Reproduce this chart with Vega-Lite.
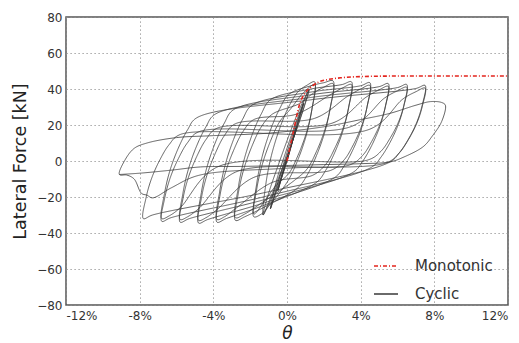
{
 "$schema": "https://vega.github.io/schema/vega-lite/v6.json",
 "width": 442, "height": 288,
 "autosize": {"type": "none"},
 "padding": {"left": 66, "top": 17, "right": 11, "bottom": 38},
 "background": "white",
 "config": {
  "view": {"stroke": "#555", "strokeWidth": 1.5},
  "font": "DejaVu Sans",
  "axis": {"domain": false, "grid": true, "gridColor": "#8f8f8f", "gridDash": [1.2, 2.8], "gridWidth": 1, "ticks": false,
           "labelFont": "DejaVu Sans", "labelFontSize": 12, "labelColor": "#333", "titleFont": "DejaVu Sans", "titleFontWeight": "normal", "titleColor": "#222"}
 },
 "datasets": {
  "cyc": [
   {"i":1,"x":0,"y":0},{"i":2,"x":0.25,"y":9},{"i":3,"x":0.5,"y":18.5},{"i":4,"x":0.25,"y":9.5},{"i":5,"x":0,"y":0.5},{"i":6,"x":-0.25,"y":-8},{"i":7,"x":-0.5,"y":-16.5},{"i":8,"x":-0.25,"y":-7.5},{"i":9,"x":0,"y":1},{"i":10,"x":0.25,"y":9.5},{"i":11,"x":0.5,"y":18.5},{"i":12,"x":0.25,"y":9},{"i":13,"x":0,"y":0},{"i":14,"x":-0.25,"y":-8},{"i":15,"x":-0.5,"y":-16.5},
   {"i":16,"x":-0.2,"y":-5},{"i":17,"x":0.2,"y":8},{"i":18,"x":0.55,"y":20},{"i":19,"x":0.9,"y":32},{"i":20,"x":0.6,"y":22},{"i":21,"x":0.2,"y":8.5},{"i":22,"x":-0.2,"y":-5.5},{"i":23,"x":-0.6,"y":-17},{"i":24,"x":-0.9,"y":-26.5},{"i":25,"x":-0.6,"y":-16},{"i":26,"x":-0.2,"y":-2},{"i":27,"x":0.2,"y":11},{"i":28,"x":0.55,"y":22},{"i":29,"x":0.9,"y":32},{"i":30,"x":0.6,"y":21.5},{"i":31,"x":0.2,"y":8},{"i":32,"x":-0.2,"y":-6},{"i":33,"x":-0.6,"y":-17.5},{"i":34,"x":-0.9,"y":-26.5},
   {"i":35,"x":-0.6,"y":-12},{"i":36,"x":-0.1,"y":4},{"i":37,"x":0.4,"y":19},{"i":38,"x":0.8,"y":30},{"i":39,"x":1.2,"y":40},{"i":40,"x":0.95,"y":31},{"i":41,"x":0.5,"y":17},{"i":42,"x":0,"y":2},{"i":43,"x":-0.5,"y":-12},{"i":44,"x":-0.9,"y":-22},{"i":45,"x":-1.3,"y":-30},{"i":46,"x":-1.0,"y":-18},{"i":47,"x":-0.5,"y":-3},{"i":48,"x":0.1,"y":14},{"i":49,"x":0.6,"y":27},{"i":50,"x":1.2,"y":39.5},{"i":51,"x":0.9,"y":29},{"i":52,"x":0.4,"y":14},{"i":53,"x":-0.1,"y":0},{"i":54,"x":-0.6,"y":-13},{"i":55,"x":-1.0,"y":-23},{"i":56,"x":-1.3,"y":-30},
   {"i":57,"x":-1.15,"y":-12.9},{"i":58,"x":-0.85,"y":2.9},{"i":59,"x":-0.4,"y":18},{"i":60,"x":0.1,"y":30.3},{"i":61,"x":0.6,"y":38.5},{"i":62,"x":1.1,"y":42.2},{"i":63,"x":1.5,"y":44},{"i":64,"x":1.35,"y":28.6},{"i":65,"x":1.05,"y":14.4},{"i":66,"x":0.6,"y":0.9},{"i":67,"x":0.1,"y":-10.2},{"i":68,"x":-0.4,"y":-17.6},{"i":69,"x":-0.9,"y":-24},{"i":70,"x":-1.4,"y":-29.5},{"i":71,"x":-1.8,"y":-31},
   {"i":72,"x":-1.65,"y":-16},{"i":73,"x":-1.35,"y":-2.2},{"i":74,"x":-0.9,"y":11},{"i":75,"x":-0.4,"y":21.8},{"i":76,"x":0.2,"y":29},{"i":77,"x":0.9,"y":38},{"i":78,"x":1.5,"y":42.5},{"i":79,"x":1.35,"y":28.5},{"i":80,"x":1.05,"y":15.6},{"i":81,"x":0.6,"y":3.2},{"i":82,"x":0.1,"y":-6.9},{"i":83,"x":-0.6,"y":-13.6},{"i":84,"x":-1.2,"y":-22},{"i":85,"x":-1.8,"y":-29.5},
   {"i":86,"x":-1.65,"y":-12.9},{"i":87,"x":-1.35,"y":2.4},{"i":88,"x":-0.9,"y":17.1},{"i":89,"x":-0.4,"y":29},{"i":90,"x":0.1,"y":37},{"i":91,"x":1.3,"y":41.8},{"i":92,"x":2.0,"y":43.5},{"i":93,"x":2.5,"y":44.5},{"i":94,"x":2.35,"y":29.7},{"i":95,"x":2.05,"y":16},{"i":96,"x":1.6,"y":3},{"i":97,"x":1.1,"y":-7.7},{"i":98,"x":0.6,"y":-14.8},{"i":99,"x":-1.1,"y":-24.9},{"i":100,"x":-2.3,"y":-31},{"i":101,"x":-2.8,"y":-33},
   {"i":102,"x":-2.65,"y":-18.3},{"i":103,"x":-2.35,"y":-4.7},{"i":104,"x":-1.9,"y":8.3},{"i":105,"x":-1.4,"y":18.9},{"i":106,"x":-0.8,"y":26},{"i":107,"x":0.7,"y":32},{"i":108,"x":1.4,"y":37.5},{"i":109,"x":2.0,"y":41},{"i":110,"x":2.5,"y":43},{"i":111,"x":2.35,"y":29.5},{"i":112,"x":2.05,"y":17.2},{"i":113,"x":1.6,"y":5.3},{"i":114,"x":1.1,"y":-4.3},{"i":115,"x":0.4,"y":-10.8},{"i":116,"x":-1.2,"y":-22},{"i":117,"x":-2.3,"y":-29.5},{"i":118,"x":-2.8,"y":-31.5},
   {"i":119,"x":-2.65,"y":-15.1},{"i":120,"x":-2.35,"y":-0.1},{"i":121,"x":-1.9,"y":14.4},{"i":122,"x":-1.4,"y":26.1},{"i":123,"x":-0.9,"y":34},{"i":124,"x":1.3,"y":40},{"i":125,"x":3.0,"y":42.5},{"i":126,"x":3.5,"y":44},{"i":127,"x":3.35,"y":30},{"i":128,"x":3.05,"y":17.2},{"i":129,"x":2.6,"y":4.9},{"i":130,"x":2.1,"y":-5.2},{"i":131,"x":1.6,"y":-11.9},{"i":132,"x":-1.1,"y":-24},{"i":133,"x":-3.3,"y":-32},{"i":134,"x":-3.8,"y":-34},
   {"i":135,"x":-3.65,"y":-19.8},{"i":136,"x":-3.35,"y":-6.6},{"i":137,"x":-2.9,"y":5.9},{"i":138,"x":-2.4,"y":16.2},{"i":139,"x":-1.8,"y":23},{"i":140,"x":0.5,"y":26},{"i":141,"x":2.3,"y":36.5},{"i":142,"x":3.0,"y":40.5},{"i":143,"x":3.5,"y":42.5},{"i":144,"x":3.35,"y":29.9},{"i":145,"x":3.05,"y":18.3},{"i":146,"x":2.6,"y":7.2},{"i":147,"x":2.1,"y":-1.9},{"i":148,"x":1.4,"y":-7.9},{"i":149,"x":-0.8,"y":-11.9},{"i":150,"x":-2.8,"y":-26.5},{"i":151,"x":-3.4,"y":-31},{"i":152,"x":-3.8,"y":-32.5},
   {"i":153,"x":-3.65,"y":-16.6},{"i":154,"x":-3.35,"y":-2},{"i":155,"x":-2.9,"y":12},{"i":156,"x":-2.4,"y":23.4},{"i":157,"x":-1.9,"y":31},{"i":158,"x":1.3,"y":38.3},{"i":159,"x":4.0,"y":41.8},{"i":160,"x":4.5,"y":43.5},{"i":161,"x":4.35,"y":30.3},{"i":162,"x":4.05,"y":18.3},{"i":163,"x":3.6,"y":6.7},{"i":164,"x":3.1,"y":-2.8},{"i":165,"x":2.6,"y":-9.1},{"i":166,"x":-1.1,"y":-22.8},{"i":167,"x":-4.3,"y":-32.5},{"i":168,"x":-4.8,"y":-34.5},
   {"i":169,"x":-4.65,"y":-20.7},{"i":170,"x":-4.35,"y":-8},{"i":171,"x":-3.9,"y":4.1},{"i":172,"x":-3.4,"y":14.1},{"i":173,"x":-2.8,"y":20.7},{"i":174,"x":1.5,"y":23.7},{"i":175,"x":3.3,"y":36},{"i":176,"x":4.0,"y":40},{"i":177,"x":4.5,"y":42},{"i":178,"x":4.35,"y":30.2},{"i":179,"x":4.05,"y":19.4},{"i":180,"x":3.6,"y":9},{"i":181,"x":3.1,"y":0.6},{"i":182,"x":2.4,"y":-5.1},{"i":183,"x":-1.8,"y":-9.1},{"i":184,"x":-3.8,"y":-27},{"i":185,"x":-4.4,"y":-31.5},{"i":186,"x":-4.8,"y":-33},
   {"i":187,"x":-4.65,"y":-17.6},{"i":188,"x":-4.35,"y":-3.5},{"i":189,"x":-3.9,"y":10},{"i":190,"x":-3.4,"y":21.1},{"i":191,"x":-2.9,"y":28.5},{"i":192,"x":1.3,"y":36.8},{"i":193,"x":5.0,"y":41.3},{"i":194,"x":5.5,"y":43},{"i":195,"x":5.35,"y":30.7},{"i":196,"x":5.05,"y":19.4},{"i":197,"x":4.6,"y":8.6},{"i":198,"x":4.1,"y":-0.3},{"i":199,"x":3.6,"y":-6.2},{"i":200,"x":-1.1,"y":-21.1},{"i":201,"x":-5.3,"y":-32},{"i":202,"x":-5.8,"y":-34},
   {"i":203,"x":-5.65,"y":-21},{"i":204,"x":-5.35,"y":-9},{"i":205,"x":-4.9,"y":2.5},{"i":206,"x":-4.4,"y":11.9},{"i":207,"x":-3.8,"y":18.2},{"i":208,"x":2.5,"y":21.2},{"i":209,"x":4.3,"y":35.5},{"i":210,"x":5.0,"y":39.5},{"i":211,"x":5.5,"y":41.5},{"i":212,"x":5.35,"y":30.6},{"i":213,"x":5.05,"y":20.5},{"i":214,"x":4.6,"y":10.9},{"i":215,"x":4.1,"y":3},{"i":216,"x":3.4,"y":-2.2},{"i":217,"x":-2.8,"y":-6.2},{"i":218,"x":-4.8,"y":-26.5},{"i":219,"x":-5.4,"y":-31},{"i":220,"x":-5.8,"y":-32.5},
   {"i":221,"x":-5.65,"y":-17.9},{"i":222,"x":-5.35,"y":-4.4},{"i":223,"x":-4.9,"y":8.5},{"i":224,"x":-4.4,"y":19},{"i":225,"x":-3.9,"y":26},{"i":226,"x":1.3,"y":35.3},{"i":227,"x":6.0,"y":40.8},{"i":228,"x":6.5,"y":42.5},{"i":229,"x":6.35,"y":31},{"i":230,"x":6.05,"y":20.5},{"i":231,"x":5.6,"y":10.4},{"i":232,"x":5.1,"y":2.1},{"i":233,"x":4.6,"y":-3.4},{"i":234,"x":-1.1,"y":-19.5},{"i":235,"x":-6.3,"y":-31.5},{"i":236,"x":-6.8,"y":-33.5},
   {"i":237,"x":-6.65,"y":-21.1},{"i":238,"x":-6.35,"y":-9.6},{"i":239,"x":-5.9,"y":1.3},{"i":240,"x":-5.4,"y":10.2},{"i":241,"x":-4.8,"y":16.2},{"i":242,"x":3.5,"y":19.2},{"i":243,"x":5.3,"y":35},{"i":244,"x":6.0,"y":39},{"i":245,"x":6.5,"y":41},{"i":246,"x":6.35,"y":30.9},{"i":247,"x":6.05,"y":21.6},{"i":248,"x":5.6,"y":12.7},{"i":249,"x":5.1,"y":5.4},{"i":250,"x":4.4,"y":0.6},{"i":251,"x":-3.8,"y":-3.4},{"i":252,"x":-5.8,"y":-26},{"i":253,"x":-6.4,"y":-30.5},{"i":254,"x":-6.8,"y":-32},
   {"i":255,"x":-6.65,"y":-18},{"i":256,"x":-6.35,"y":-5.1},{"i":257,"x":-5.9,"y":7.2},{"i":258,"x":-5.4,"y":17.3},{"i":259,"x":-4.9,"y":24},{"i":260,"x":1.3,"y":34},{"i":261,"x":7.0,"y":40.3},{"i":262,"x":7.5,"y":42},{"i":263,"x":7.35,"y":31.4},{"i":264,"x":7.05,"y":21.6},{"i":265,"x":6.6,"y":12.3},{"i":266,"x":6.1,"y":4.6},{"i":267,"x":5.6,"y":-0.5},{"i":268,"x":-1.1,"y":-17.3},{"i":269,"x":-7.3,"y":-30},{"i":270,"x":-7.8,"y":-32},
   {"i":271,"x":-7.65,"y":-20.3},{"i":272,"x":-7.35,"y":-9.6},{"i":273,"x":-6.9,"y":0.7},{"i":274,"x":-6.4,"y":9.1},{"i":275,"x":-5.8,"y":14.7},{"i":276,"x":4.5,"y":17.7},{"i":277,"x":6.3,"y":34.5},{"i":278,"x":7.0,"y":38.5},{"i":279,"x":7.5,"y":40.5},{"i":280,"x":7.35,"y":30.5},{"i":281,"x":7.05,"y":21},{"i":282,"x":6.6,"y":12},{"i":283,"x":6.1,"y":4.5},{"i":284,"x":5.4,"y":-1},{"i":285,"x":0,"y":-4},{"i":286,"x":-4.8,"y":-8},{"i":287,"x":-6.3,"y":-15},{"i":288,"x":-7.3,"y":-20.5},{"i":289,"x":-7.6,"y":-19},{"i":290,"x":-7.9,"y":-18},{"i":291,"x":-8.3,"y":-10},{"i":292,"x":-8.7,"y":-7.8},{"i":293,"x":-9.1,"y":-7.5},
   {"i":294,"x":-8.8,"y":0.5},{"i":295,"x":-8.3,"y":7},{"i":296,"x":-7.6,"y":10},{"i":297,"x":-6.0,"y":13},{"i":298,"x":-4.2,"y":14},{"i":299,"x":-1,"y":15.5},{"i":300,"x":2,"y":19},{"i":301,"x":4,"y":23},{"i":302,"x":5.6,"y":26.5},{"i":303,"x":7.0,"y":31},{"i":304,"x":7.8,"y":33},{"i":305,"x":8.4,"y":32.5},{"i":306,"x":8.6,"y":31},{"i":307,"x":8.4,"y":22},{"i":308,"x":7.9,"y":14},{"i":309,"x":7.4,"y":8},{"i":310,"x":6.3,"y":2},{"i":311,"x":5.6,"y":-0.5},{"i":312,"x":4,"y":-1.5},{"i":313,"x":2,"y":-2},{"i":314,"x":0,"y":-2.5},{"i":315,"x":-2.5,"y":-3},{"i":316,"x":-4.7,"y":-3.3},{"i":317,"x":-6.2,"y":-5},{"i":318,"x":-7.9,"y":-6.7},{"i":319,"x":-9.1,"y":-7.5}
  ],
  "mono": [
   {"x":0,"y":0},{"x":0.3,"y":14},{"x":0.7,"y":32},{"x":1.0,"y":38},{"x":1.36,"y":41.5},{"x":1.7,"y":43.8},{"x":2.2,"y":45.2},{"x":3,"y":46.3},{"x":4,"y":46.9},{"x":6,"y":47.2},{"x":12,"y":47.2}
  ]
 },
 "encoding": {
  "x": {"field": "x", "type": "quantitative", "scale": {"domain": [-12, 12], "nice": false, "zero": false},
        "axis": {"values": [-12, -8, -4, 0, 4, 8, 12], "labelExpr": "datum.value + '%'", "labelPadding": 5,
                 "title": "θ", "titleFontSize": 17, "titleFontStyle": "italic", "titleBaseline": "top", "titleY": 20, "titleX": 221}},
  "y": {"field": "y", "type": "quantitative", "scale": {"domain": [-80, 80], "nice": false},
        "axis": {"values": [-80, -60, -40, -20, 0, 20, 40, 60, 80], "labelExpr": "datum.value < 0 ? '−' + abs(datum.value) : '' + datum.value", "labelPadding": 4,
                 "title": "Lateral Force [kN]", "titleFontSize": 17.5, "titleX": -46, "titleY": 144, "titleBaseline": "middle", "titleAngle": -90}}
 },
 "layer": [
  {
   "data": {"name": "cyc"},
   "mark": {"type": "line", "strokeWidth": 0.8, "interpolate": "catmull-rom"},
   "encoding": {
    "order": {"field": "i", "type": "quantitative"},
    "color": {"datum": "Cyclic", "type": "nominal",
              "scale": {"domain": ["Monotonic", "Cyclic"], "range": ["#e3241d", "#3a3a3a"]},
              "legend": {"title": null, "orient": "none", "legendX": 307, "legendY": 236, "padding": 0,
                         "labelFontSize": 15, "labelColor": "#333", "labelFont": "DejaVu Sans", "symbolSize": 576, "symbolStrokeWidth": 1.3,
                         "rowPadding": 7, "labelOffset": 16}},
    "strokeDash": {"datum": "Cyclic", "type": "nominal",
                   "scale": {"domain": ["Monotonic", "Cyclic"], "range": [[4, 2, 1, 2], [1, 0]]},
                   "legend": {"title": null, "orient": "none", "legendX": 307, "legendY": 236, "padding": 0,
                              "labelFontSize": 15, "labelColor": "#333", "labelFont": "DejaVu Sans", "symbolSize": 576, "symbolStrokeWidth": 1.3,
                              "rowPadding": 7, "labelOffset": 16}}
   }
  },
  {
   "data": {"name": "mono"},
   "mark": {"type": "line", "strokeWidth": 1.6, "interpolate": "monotone"},
   "encoding": {
    "color": {"datum": "Monotonic", "type": "nominal"},
    "strokeDash": {"datum": "Monotonic", "type": "nominal"}
   }
  }
 ]
}
